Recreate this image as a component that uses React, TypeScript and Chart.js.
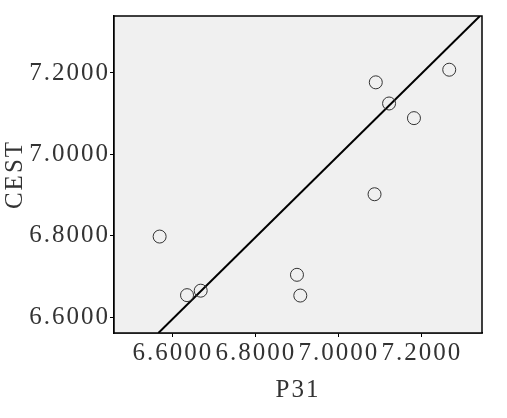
import React, { useEffect, useRef } from "react";
import { Chart, registerables } from "chart.js";

Chart.register(...registerables);

const p31Values = [6.568, 6.634, 6.667, 6.899, 6.907, 7.086, 7.089, 7.121, 7.181, 7.266];
const cestValues = [6.798, 6.654, 6.665, 6.704, 6.653, 6.902, 7.177, 7.125, 7.089, 7.208];
const fitLineX = [6.565, 7.34];
const fitLineY = [6.561, 7.34];
const xTickValues = [6.6, 6.8, 7.0, 7.2];
const yTickValues = [6.6, 6.8, 7.0, 7.2];
const xRange = [6.458, 7.345];
const yRange = [6.561, 7.34];
const xTitle = "P31";
const yTitle = "CEST";

const spacing = {
  id: "spacing",
  beforeLayout(chart: any) {
    chart.ctx.letterSpacing = "2px";
  },
  beforeDraw(chart: any) {
    chart.ctx.letterSpacing = "2px";
  },
};

const frame = {
  id: "frame",
  beforeDatasetsDraw(chart: any) {
    const { ctx, chartArea: a } = chart;
    ctx.save();
    ctx.fillStyle = "#f0f0f0";
    ctx.fillRect(a.left, a.top, a.right - a.left, a.bottom - a.top);
    ctx.restore();
  },
  afterDraw(chart: any) {
    const { ctx, chartArea: a } = chart;
    ctx.save();
    ctx.strokeStyle = "#000";
    ctx.lineWidth = 1.5;
    ctx.strokeRect(a.left, a.top, a.right - a.left, a.bottom - a.top);
    ctx.restore();
  },
};

export default function App() {
  const ref = useRef<HTMLCanvasElement>(null);
  useEffect(() => {
    const font = { family: "'Liberation Serif', 'DejaVu Serif', serif", size: 25 };
    const chart = new Chart(ref.current!, {
      type: "scatter",
      data: {
        datasets: [
          {
            data: p31Values.map((x, i) => ({ x, y: cestValues[i] })),
            pointRadius: 6.5,
            pointBorderWidth: 1,
            borderColor: "#333",
            backgroundColor: "rgba(0,0,0,0)",
            showLine: false,
          },
          {
            type: "line",
            data: fitLineX.map((x, i) => ({ x, y: fitLineY[i] })),
            borderColor: "#000",
            borderWidth: 2,
            pointRadius: 0,
            fill: false,
          } as any,
        ],
      },
      options: {
        animation: false,
        responsive: false,
        maintainAspectRatio: false,
        layout: { padding: { top: 16, right: 25, left: 0, bottom: 13 } },
        plugins: { legend: { display: false }, tooltip: { enabled: false } },
        scales: {
          x: {
            type: "linear",
            min: xRange[0],
            max: xRange[1],
            afterBuildTicks: (s: any) => {
              s.ticks = xTickValues.map((v) => ({ value: v }));
            },
            afterFit: (s: any) => {
              s.height = 72;
            },
            ticks: {
              font,
              color: "#333",
              padding: 1,
              maxRotation: 0,
              autoSkip: false,
              callback: (v: any) => Number(v).toFixed(4),
            },
            grid: { drawOnChartArea: false, drawTicks: true, tickLength: 4, color: "#000" },
            border: { color: "#000", width: 1.5 },
            title: { display: true, text: xTitle, font, color: "#333", padding: { top: 4, bottom: 0 } },
          },
          y: {
            type: "linear",
            min: yRange[0],
            max: yRange[1],
            afterBuildTicks: (s: any) => {
              s.ticks = yTickValues.map((v) => ({ value: v }));
            },
            afterFit: (s: any) => {
              s.width = 114;
            },
            ticks: {
              font,
              color: "#333",
              padding: 0,
              autoSkip: false,
              callback: (v: any) => Number(v).toFixed(4),
            },
            grid: { drawOnChartArea: false, drawTicks: true, tickLength: 4, color: "#000" },
            border: { color: "#000", width: 1.5 },
            title: { display: true, text: yTitle, font, color: "#333", padding: { top: 0, bottom: 0 } },
          },
        },
      },
      plugins: [spacing, frame],
    });
    return () => chart.destroy();
  }, []);
  return (
    <div style={{ position: "fixed", left: 0, top: 0, width: 507, height: 418, background: "#fff" }}>
      <canvas ref={ref} width={507} height={418} style={{ width: 507, height: 418 }} />
    </div>
  );
}
